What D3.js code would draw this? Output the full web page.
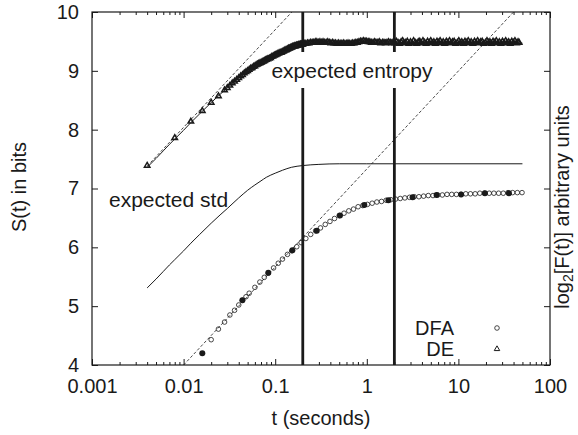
<!DOCTYPE html>
<html>
<head>
<meta charset="utf-8">
<script src="https://cdn.jsdelivr.net/npm/d3@7"></script>
<style>
  body { margin: 0; background: #fff; }
  svg text { font-family: "Liberation Sans", Arial, sans-serif; fill: #1a1a1a; }
</style>
</head>
<body>
<div id="chart"></div>
<script>
// DE (triangles): lag in seconds and entropy in bits
const deT = [0.004, 0.008, 0.012, 0.016, 0.020, 0.024, 0.028,
  0.030, 0.032, 0.034, 0.036, 0.038, 0.040, 0.042, 0.044, 0.046, 0.048, 0.050, 0.052, 0.054,
  0.056, 0.058, 0.060, 0.062, 0.064, 0.066, 0.068, 0.070, 0.072, 0.074, 0.076, 0.078, 0.080,
  0.083, 0.086, 0.089, 0.092, 0.095, 0.098, 0.101, 0.104, 0.107, 0.110,
  0.113, 0.116, 0.119, 0.122, 0.125, 0.128, 0.131, 0.134, 0.137, 0.140,
  0.143, 0.146, 0.149, 0.152, 0.155, 0.158, 0.161, 0.164, 0.167, 0.170,
  0.173, 0.176, 0.179, 0.182, 0.185, 0.188, 0.191, 0.194, 0.197,
  0.2, 0.208, 0.216, 0.225, 0.234, 0.243, 0.253, 0.263, 0.274, 0.285, 0.296,
  0.308, 0.320, 0.333, 0.346, 0.360, 0.375, 0.390, 0.405, 0.421, 0.438, 0.456,
  0.474, 0.493, 0.513, 0.533, 0.554, 0.577, 0.600, 0.624, 0.649, 0.675, 0.702,
  0.730, 0.759, 0.789, 0.821, 0.854, 0.888, 0.923, 0.960, 0.999, 1.04, 1.08, 1.12,
  1.17, 1.22, 1.26, 1.32, 1.37, 1.42, 1.48, 1.54, 1.60, 1.66, 1.73, 1.80, 1.87, 1.95,
  2.02, 2.10, 2.19, 2.28, 2.37, 2.46, 2.56, 2.66, 2.77, 2.88, 3.00, 3.12, 3.24, 3.37,
  3.51, 3.65, 3.79, 3.94, 4.10, 4.27, 4.44, 4.61, 4.80, 4.99, 5.19, 5.40, 5.61, 5.84,
  6.07, 6.31, 6.57, 6.83, 7.10, 7.39, 7.68, 7.99, 8.31, 8.64, 8.99, 9.35, 9.72, 10.1,
  10.5, 10.9, 11.4, 11.8, 12.3, 12.8, 13.3, 13.8, 14.4, 15.0, 15.6, 16.2, 16.8, 17.5,
  18.2, 18.9, 19.7, 20.5, 21.3, 22.1, 23.0, 23.9, 24.9, 25.9, 26.9, 28.0, 29.1, 30.3,
  31.5, 32.8, 34.1, 35.4, 36.8, 38.3, 39.8, 41.4, 43.1, 44.8, 46.0];
const deS = [7.39, 7.86, 8.14, 8.32, 8.46, 8.57, 8.67,
  8.71, 8.75, 8.79, 8.82, 8.85, 8.88, 8.91, 8.93, 8.96, 8.98, 9.00, 9.02, 9.04,
  9.05, 9.07, 9.08, 9.10, 9.11, 9.12, 9.13, 9.14, 9.15, 9.16, 9.17, 9.18, 9.19,
  9.20, 9.21, 9.22, 9.24, 9.25, 9.26, 9.27, 9.28, 9.29, 9.30,
  9.31, 9.31, 9.32, 9.33, 9.34, 9.35, 9.35, 9.36, 9.37, 9.38,
  9.38, 9.39, 9.40, 9.40, 9.41, 9.41, 9.42, 9.42, 9.42, 9.43,
  9.43, 9.43, 9.44, 9.44, 9.44, 9.45, 9.45, 9.45, 9.45,
  9.45, 9.46, 9.46, 9.47, 9.47, 9.48, 9.48, 9.48, 9.49, 9.49, 9.48,
  9.49, 9.48, 9.49, 9.48, 9.48, 9.49, 9.48, 9.47, 9.48, 9.47, 9.47,
  9.46, 9.47, 9.46, 9.46, 9.47, 9.46, 9.46, 9.47, 9.46, 9.46, 9.47,
  9.47, 9.48, 9.48, 9.49, 9.50, 9.50, 9.51, 9.50, 9.50, 9.49, 9.49, 9.48,
  9.48, 9.49, 9.48, 9.48, 9.49, 9.47, 9.48, 9.48, 9.47, 9.48, 9.49, 9.48, 9.47, 9.49,
  9.47, 9.50, 9.48, 9.46, 9.49, 9.51, 9.47, 9.48, 9.50, 9.46, 9.49, 9.47, 9.51, 9.48,
  9.46, 9.49, 9.50, 9.47, 9.51, 9.48, 9.46, 9.50, 9.48, 9.51, 9.47, 9.49, 9.46, 9.50,
  9.48, 9.51, 9.47, 9.49, 9.46, 9.50, 9.48, 9.51, 9.47, 9.49, 9.50, 9.46, 9.48, 9.51,
  9.47, 9.49, 9.46, 9.50, 9.48, 9.51, 9.47, 9.49, 9.46, 9.50, 9.48, 9.51, 9.47, 9.49,
  9.50, 9.46, 9.48, 9.51, 9.47, 9.49, 9.46, 9.50, 9.48, 9.51, 9.47, 9.49, 9.46, 9.50,
  9.48, 9.51, 9.47, 9.49, 9.46, 9.50, 9.48, 9.51, 9.47, 9.49, 9.48];

// DFA (open circles)
const dfaT = [0.020, 0.024, 0.028, 0.032, 0.036, 0.040, 0.044, 0.048, 0.052, 0.060,
  0.068, 0.076, 0.084, 0.096, 0.108, 0.120, 0.136, 0.152, 0.172, 0.192,
  0.216, 0.244, 0.276, 0.312, 0.352, 0.396, 0.444, 0.50, 0.564, 0.636,
  0.716, 0.804, 0.904, 1.016, 1.144, 1.288, 1.448, 1.628, 1.832, 2.06,
  2.316, 2.604, 2.928, 3.296, 3.708, 4.172, 4.692, 5.28, 5.94, 6.68,
  7.516, 8.456, 9.51, 10.7, 12.04, 13.54, 15.24, 17.14, 19.28, 21.7,
  24.4, 27.5, 30.9, 34.8, 39.1, 44.0, 49.5];
const dfaS = [4.43, 4.61, 4.73, 4.85, 4.93, 5.02, 5.10, 5.16, 5.22, 5.32,
  5.41, 5.49, 5.56, 5.65, 5.73, 5.80, 5.88, 5.94, 6.01, 6.08,
  6.15, 6.22, 6.28, 6.33, 6.39, 6.44, 6.49, 6.54, 6.58, 6.62,
  6.65, 6.69, 6.71, 6.73, 6.75, 6.77, 6.78, 6.80, 6.81, 6.82,
  6.83, 6.84, 6.85, 6.86, 6.86, 6.87, 6.88, 6.88, 6.89, 6.89,
  6.90, 6.90, 6.90, 6.90, 6.91, 6.91, 6.91, 6.92, 6.92, 6.92,
  6.92, 6.92, 6.92, 6.93, 6.93, 6.93, 6.93];

// filled circles
const dotT = [0.016, 0.0438, 0.0841, 0.154, 0.284, 0.509, 0.94, 1.72, 3.16, 5.78, 10.7, 19.5, 35.6];
const dotS = [4.20, 5.10, 5.57, 5.95, 6.28, 6.54, 6.72, 6.80, 6.85, 6.89, 6.90, 6.92, 6.92];

// expected curves
const expT = [0.004, 0.005, 0.006, 0.007, 0.008, 0.01, 0.012, 0.015, 0.02, 0.025,
  0.03, 0.04, 0.05, 0.06, 0.07, 0.08, 0.1, 0.12, 0.15, 0.2, 0.3, 0.5, 1, 50];
const stdS = [5.31, 5.46, 5.59, 5.70, 5.79, 5.94, 6.07, 6.22, 6.41, 6.55,
  6.66, 6.84, 6.97, 7.06, 7.13, 7.19, 7.26, 7.31, 7.36, 7.39, 7.41, 7.42, 7.42, 7.42];
const entS = [7.36, 7.51, 7.64, 7.75, 7.84, 7.99, 8.12, 8.27, 8.46, 8.60,
  8.71, 8.89, 9.02, 9.11, 9.18, 9.24, 9.31, 9.36, 9.41, 9.44, 9.46, 9.47, 9.47, 9.47];

// dashed slope-1/2 guides
const deGuide = [[0.004, 7.38], [0.152, 10]];
const dfaGuide = [[0.01, 4], [40, 10]];

const vLines = [0.2, 2];
const xMajor = [0.001, 0.01, 0.1, 1, 10, 100];
const xLabels = ["0.001", "0.01", "0.1", "1", "10", "100"];
const yMajor = [4, 5, 6, 7, 8, 9, 10];

const width = 578, height = 435;
const plotLeft = 92, plotRight = 550, plotTop = 12, plotBottom = 365;
const ink = "#1a1a1a";

const svg = d3.select("#chart").append("svg")
  .attr("width", width)
  .attr("height", height);

const x = d3.scaleLog().domain([0.001, 100]).range([plotLeft, plotRight]);
const y = d3.scaleLinear().domain([4, 10]).range([plotBottom, plotTop]);

const xMinor = x.ticks().filter(d => xMajor.indexOf(d) === -1);

// axes, ticks pointing inwards
const axes = svg.append("g").attr("class", "axes");

axes.append("g")
  .attr("transform", "translate(0," + plotBottom + ")")
  .call(d3.axisBottom(x).tickValues(xMajor).tickSizeInner(-6).tickSizeOuter(0).tickPadding(14)
    .tickFormat((d, i) => xLabels[i]));
axes.append("g")
  .attr("transform", "translate(0," + plotBottom + ")")
  .call(d3.axisBottom(x).tickValues(xMinor).tickSizeInner(-3).tickSizeOuter(0).tickFormat(""));
axes.append("g")
  .attr("transform", "translate(0," + plotTop + ")")
  .call(d3.axisTop(x).tickValues(xMajor).tickSizeInner(-6).tickSizeOuter(0).tickFormat(""));
axes.append("g")
  .attr("transform", "translate(0," + plotTop + ")")
  .call(d3.axisTop(x).tickValues(xMinor).tickSizeInner(-3).tickSizeOuter(0).tickFormat(""));
axes.append("g")
  .attr("transform", "translate(" + plotLeft + ",0)")
  .call(d3.axisLeft(y).tickValues(yMajor).tickSizeInner(-6).tickSizeOuter(0).tickPadding(13)
    .tickFormat(d3.format("d")));
axes.append("g")
  .attr("transform", "translate(" + plotRight + ",0)")
  .call(d3.axisRight(y).tickValues(yMajor).tickSizeInner(-6).tickSizeOuter(0).tickFormat(""));

axes.selectAll(".domain").remove();
axes.selectAll(".tick line").attr("stroke", ink).attr("stroke-width", 1);
axes.selectAll(".tick text")
  .attr("fill", ink)
  .style("font-size", "20px")
  .style("font-family", "'Liberation Sans', Arial, sans-serif");

svg.append("rect")
  .attr("x", plotLeft)
  .attr("y", plotTop)
  .attr("width", plotRight - plotLeft)
  .attr("height", plotBottom - plotTop)
  .attr("fill", "none")
  .attr("stroke", ink)
  .attr("stroke-width", 1.2);

// thick vertical markers at 0.2 s and 2 s
svg.selectAll(".vline")
  .data(vLines)
  .enter().append("line")
  .attr("class", "vline")
  .attr("x1", d => x(d)).attr("x2", d => x(d))
  .attr("y1", y(4)).attr("y2", y(10))
  .attr("stroke", ink)
  .attr("stroke-width", 2.8);

// white box under the "expected entropy" label
svg.append("rect")
  .attr("x", 268)
  .attr("y", 52)
  .attr("width", 169)
  .attr("height", 36)
  .attr("fill", "#fff");

const line = d3.line()
  .x(d => x(d[0]))
  .y(d => y(d[1]));

const stdData = expT.map((t, i) => [t, stdS[i]]);
const entData = expT.map((t, i) => [t, entS[i]]);

svg.append("path")
  .attr("d", line.curve(d3.curveMonotoneX)(stdData))
  .attr("fill", "none")
  .attr("stroke", ink)
  .attr("stroke-width", 1);

svg.append("path")
  .attr("d", line.curve(d3.curveMonotoneX)(entData))
  .attr("fill", "none")
  .attr("stroke", ink)
  .attr("stroke-width", 1);

line.curve(d3.curveLinear);

[deGuide, dfaGuide].forEach(g => {
  svg.append("path")
    .attr("d", line(g))
    .attr("fill", "none")
    .attr("stroke", ink)
    .attr("stroke-width", 0.8)
    .attr("stroke-dasharray", "3,2");
});

// DFA open circles
svg.append("g")
  .selectAll("circle")
  .data(dfaT.map((t, i) => [t, dfaS[i]]))
  .enter().append("circle")
  .attr("cx", d => x(d[0]))
  .attr("cy", d => y(d[1]))
  .attr("r", 2.3)
  .attr("fill", "none")
  .attr("stroke", ink)
  .attr("stroke-width", 0.8);

// filled circles
svg.append("g")
  .selectAll("circle")
  .data(dotT.map((t, i) => [t, dotS[i]]))
  .enter().append("circle")
  .attr("cx", d => x(d[0]))
  .attr("cy", d => y(d[1]))
  .attr("r", 3)
  .attr("fill", ink);

// DE triangles
const tri = d3.symbol().type(d3.symbolTriangle).size(13);
svg.append("g")
  .selectAll("path")
  .data(deT.map((t, i) => [t, deS[i]]))
  .enter().append("path")
  .attr("d", tri)
  .attr("transform", d => "translate(" + x(d[0]) + "," + y(d[1]) + ")")
  .attr("fill", "none")
  .attr("stroke", ink)
  .attr("stroke-width", 1.5);

// labels
svg.append("text")
  .attr("x", 352)
  .attr("y", 78)
  .attr("text-anchor", "middle")
  .style("font-size", "21px")
  .text("expected entropy");

svg.append("text")
  .attr("x", 109)
  .attr("y", 207)
  .style("font-size", "21px")
  .text("expected std");

svg.append("text")
  .attr("x", (plotLeft + plotRight) / 2)
  .attr("y", 425)
  .attr("text-anchor", "middle")
  .style("font-size", "20px")
  .text("t (seconds)");

svg.append("text")
  .attr("transform", "translate(26,187) rotate(-90)")
  .attr("text-anchor", "middle")
  .style("font-size", "20px")
  .text("S(t) in bits");

const y2 = svg.append("text")
  .attr("transform", "translate(569,207) rotate(-90)")
  .attr("text-anchor", "middle")
  .style("font-size", "20px");
y2.append("tspan").text("log");
y2.append("tspan").attr("dy", 4).style("font-size", "14px").text("2");
y2.append("tspan").attr("dy", -4).text("[F(t)] arbitrary units");

// legend
const legend = svg.append("g");
legend.append("text")
  .attr("x", 454).attr("y", 335)
  .attr("text-anchor", "end")
  .style("font-size", "20px")
  .text("DFA");
legend.append("text")
  .attr("x", 454).attr("y", 356)
  .attr("text-anchor", "end")
  .style("font-size", "20px")
  .text("DE");
legend.append("circle")
  .attr("cx", 497).attr("cy", 328)
  .attr("r", 2.3)
  .attr("fill", "none")
  .attr("stroke", ink)
  .attr("stroke-width", 0.8);
legend.append("path")
  .attr("d", tri)
  .attr("transform", "translate(497,349)")
  .attr("fill", "none")
  .attr("stroke", ink)
  .attr("stroke-width", 1);
</script>
</body>
</html>
